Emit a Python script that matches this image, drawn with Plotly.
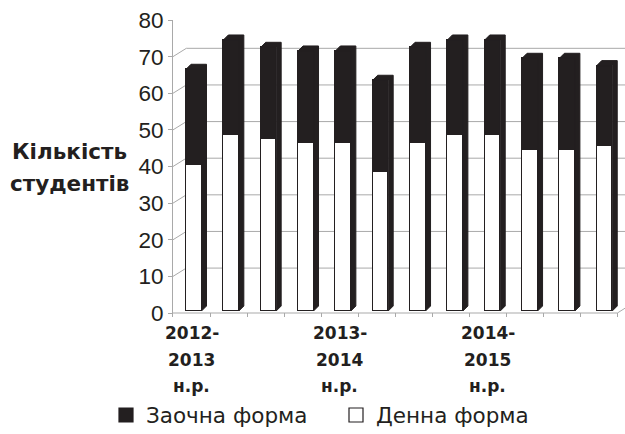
import plotly.graph_objects as go

# ---- data ----
category_labels = ["2012-\n2013\nн.р.", "", "", "", "2013-\n2014\nн.р.", "", "", "",
                   "2014-\n2015\nн.р.", "", "", ""]
denna = [40, 48, 47, 46, 46, 38, 46, 48, 48, 44, 44, 45]      # Денна форма
zaochna = [26, 26, 25, 25, 25, 25, 26, 26, 26, 25, 25, 22]    # Заочна форма
y_ticks = [0, 10, 20, 30, 40, 50, 60, 70, 80]
series_names = ["Денна форма", "Заочна форма"]
y_title = ["Кількість", "студентів"]

# ---- layout constants ----
W, H = 625, 434
L, R, T, B = 173, 0, 20, 117
PW, PH = W - L - R, H - T - B
INK = "#231f20"
GRID = "#a9a9a9"
FONT = "DejaVu Sans"
TICKFONT = "Liberation Sans, Arial"

n = len(denna)
xs = list(range(n))
totals = [a + b for a, b in zip(denna, zaochna)]

# axis ranges (front plane for labels / walls, mid-depth plane for bars)
ypx = 3.6625
y_rng = [-4 / ypx, 80]
y2_rng = [y_rng[0] - 2 / ypx, 80 - 2 / ypx]
x_unit = 37.03
x_rng = [-0.5, -0.5 + PW / x_unit]
x2_unit = 37.34
x2_lo = (173 - 193.75) / x2_unit
x2_rng = [x2_lo, x2_lo + PW / x2_unit]

wall_dx, wall_dy = 13.3 / x_unit, 8.3 / ypx
bar_w = 15.5 / x2_unit
bar_dx, bar_dy = 5 / x2_unit, 5 / ypx

fig = go.Figure()

# back wall gridlines with diagonal connectors
gx, gy = [], []
for v in y_ticks[1:-1]:
    gx += [-0.5, -0.5 + wall_dx, x_rng[1] + 1, None]
    gy += [v, v + wall_dy, v + wall_dy, None]
# floor front edge and right edge
gx += [-0.5, n - 0.5, n - 0.5 + wall_dx, None]
gy += [0, 0, wall_dy, None]
fig.add_trace(go.Scatter(x=gx, y=gy, mode="lines", line=dict(color=GRID, width=1),
                         hoverinfo="skip", showlegend=False, xaxis="x", yaxis="y"))

# bars (front faces)
fig.add_trace(go.Bar(x=xs, y=denna, name=series_names[0], width=bar_w,
                     marker=dict(color="white", line=dict(color=INK, width=1.5)),
                     showlegend=False, xaxis="x2", yaxis="y2"))
fig.add_trace(go.Bar(x=xs, y=zaochna, name=series_names[1], width=bar_w,
                     marker=dict(color=INK, line=dict(color=INK, width=1.5)),
                     showlegend=False, xaxis="x2", yaxis="y2"))

# depth faces (top + right side)
px_, py_ = [], []
for i, tot in zip(xs, totals):
    xl, xr = i - bar_w / 2, i + bar_w / 2
    px_ += [xl, xl + bar_dx, xr + bar_dx, xr + bar_dx, xr, xr, xl, None]
    py_ += [tot, tot + bar_dy, tot + bar_dy, bar_dy, 0, tot, tot, None]
fig.add_trace(go.Scatter(x=px_, y=py_, mode="lines", fill="toself", fillcolor=INK,
                         line=dict(color=INK, width=1), hoverinfo="skip",
                         showlegend=False, xaxis="x2", yaxis="y2"))

# legend entries (square swatches)
for name, col in [(series_names[1], INK), (series_names[0], "white")]:
    fig.add_trace(go.Scatter(x=[None], y=[None], mode="markers", name=name,
                             marker=dict(symbol="square", size=14, color=col,
                                         line=dict(color=INK, width=1.2)),
                             xaxis="x2", yaxis="y2"))

def pxx(p):
    return (p - L) / PW

def pyy(p):
    return (H - B - p) / PH

annotations = []
# category labels, line by line
for i, lab in enumerate(category_labels):
    if not lab:
        continue
    for k, line in enumerate(lab.split("\n")):
        annotations.append(dict(x=i, xref="x", y=pyy(333 + 26.5 * k), yref="paper",
                                text=line, showarrow=False, xanchor="center",
                                yanchor="middle",
                                font=dict(family=FONT, size=17, color=INK, weight="bold")))
# y title
for k, line in enumerate(y_title):
    annotations.append(dict(x=pxx(69), xref="paper", y=pyy(151 + 33 * k), yref="paper",
                            text=line, showarrow=False, xanchor="center", yanchor="middle",
                            font=dict(family=FONT, size=21.5, color=INK, weight="bold")))

fig.update_layout(
    width=W, height=H,
    margin=dict(l=L, r=R, t=T, b=B, pad=0, autoexpand=False),
    plot_bgcolor="white", paper_bgcolor="white",
    barmode="stack",
    bargap=0,
    font=dict(family=FONT, color=INK),
    xaxis=dict(range=x_rng, showgrid=False, zeroline=False, showline=False,
               tickvals=[i - 0.5 for i in range(n + 1)], ticks="inside", ticklen=4,
               tickcolor=GRID, tickwidth=1, showticklabels=False, fixedrange=True),
    xaxis2=dict(range=x2_rng, overlaying="x", visible=False, fixedrange=True),
    yaxis=dict(range=y_rng, tickvals=y_ticks, showgrid=False, zeroline=False,
               showline=True, linecolor=GRID, linewidth=1, ticks="outside", ticklen=4,
               tickcolor=GRID, tickfont=dict(family=TICKFONT, size=22.5, color=INK),
               fixedrange=True),
    yaxis2=dict(range=y2_rng, overlaying="y", visible=False, fixedrange=True),
    legend=dict(orientation="h", traceorder="normal", x=pxx(106), xanchor="left",
                y=pyy(415), yanchor="middle", font=dict(family=FONT, size=21.5, color=INK),
                entrywidth=185, entrywidthmode="pixels", bgcolor="rgba(0,0,0,0)",
                itemsizing="trace"),
    annotations=annotations,
    showlegend=True,
)

fig.write_html("out.html", config={"displayModeBar": False},
               post_script="document.body.style.margin='0';")
